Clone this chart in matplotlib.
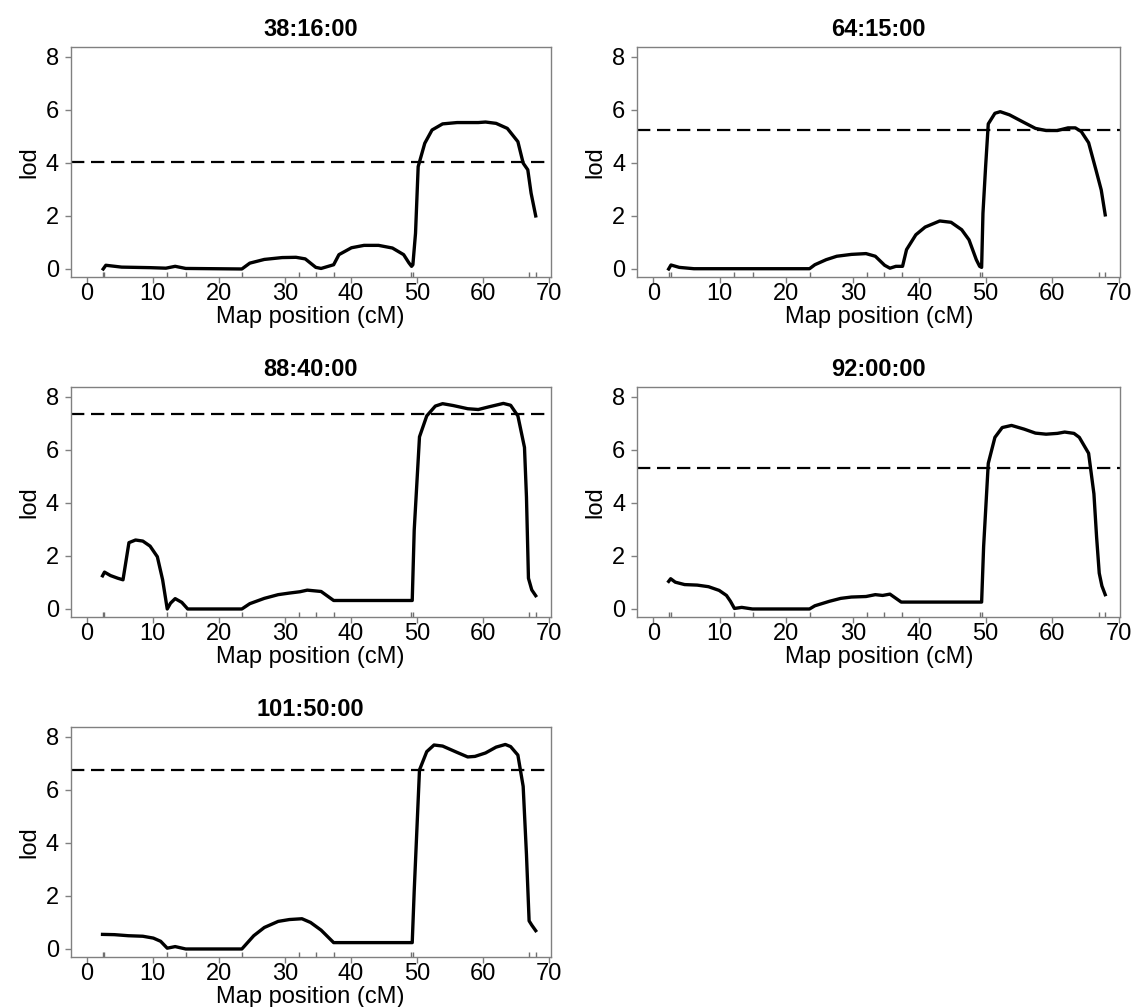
import numpy as np
import matplotlib.pyplot as plt

plt.rcParams["font.family"] = ["Liberation Sans", "DejaVu Sans"]

# ---- data ----
titles = ["38:16:00", "64:15:00", "88:40:00", "92:00:00", "101:50:00"]
thresholds = [4.03, 5.23, 7.34, 5.31, 6.75]
markers = [2.4, 2.6, 12.1, 15.0, 23.5, 32.2, 34.7, 37.4, 49.1, 49.4, 67.0, 68.0]

pos1 = [2.5, 2.9, 5.3, 9.6, 12.0, 13.4, 15.0, 23.5, 24.7, 26.9, 29.6, 31.7, 33.1, 34.7,
        35.5, 37.4, 38.2, 40.1, 42.0, 44.2, 46.3, 48.0, 48.8, 49.2, 49.4, 49.8, 50.2,
        51.2, 52.3, 53.9, 56.1, 59.3, 60.4, 62.0, 63.7, 65.3, 66.1, 66.8, 67.3, 68.0]
lod1 = [0.0, 0.14, 0.07, 0.05, 0.03, 0.1, 0.02, 0.0, 0.22, 0.36, 0.43, 0.44, 0.38, 0.06,
        0.02, 0.16, 0.54, 0.8, 0.89, 0.89, 0.79, 0.54, 0.23, 0.1, 0.16, 1.35, 3.86,
        4.74, 5.24, 5.47, 5.52, 5.52, 5.54, 5.49, 5.3, 4.8, 3.99, 3.74, 2.86, 2.0]

pos2 = [2.3, 2.65, 3.9, 6.1, 23.5, 24.3, 26.0, 27.6, 29.8, 32.0, 33.4, 34.8, 35.6, 36.5,
        37.5, 38.1, 39.5, 40.9, 43.1, 44.8, 46.4, 47.5, 48.6, 49.1, 49.4, 49.6, 50.0,
        50.4, 51.4, 52.2, 53.6, 55.8, 57.5, 59.1, 60.8, 62.4, 63.5, 64.4, 65.5, 66.6,
        67.4, 68.0]
lod2 = [0.0, 0.15, 0.06, 0.01, 0.01, 0.16, 0.35, 0.48, 0.55, 0.58, 0.48, 0.14, 0.03, 0.1,
        0.1, 0.73, 1.29, 1.58, 1.81, 1.76, 1.48, 1.1, 0.35, 0.1, 0.06, 2.1, 3.86,
        5.47, 5.87, 5.93, 5.81, 5.52, 5.3, 5.22, 5.22, 5.32, 5.32, 5.18, 4.76, 3.74,
        2.98, 2.04]

pos3 = [2.4, 2.7, 3.6, 4.7, 5.5, 6.4, 7.4, 8.5, 9.6, 10.7, 11.5, 12.2, 12.7, 13.4, 14.4,
        15.3, 23.5, 24.7, 26.9, 29.0, 30.7, 32.3, 33.4, 35.5, 37.4, 49.3, 49.6, 50.4,
        51.5, 52.8, 53.9, 55.5, 57.7, 59.3, 60.9, 63.1, 64.2, 65.3, 66.3, 66.6, 66.9,
        67.4, 68.0]
lod3 = [1.25, 1.39, 1.26, 1.16, 1.1, 2.5, 2.6, 2.56, 2.37, 1.97, 1.1, 0.0, 0.22, 0.39, 0.25,
        0.0, 0.0, 0.2, 0.4, 0.54, 0.6, 0.65, 0.71, 0.66, 0.32, 0.32, 2.97, 6.49,
        7.28, 7.65, 7.74, 7.67, 7.55, 7.52, 7.62, 7.75, 7.68, 7.28, 6.09, 4.22, 1.16,
        0.72, 0.5]

pos4 = [2.3, 2.6, 3.3, 4.7, 6.6, 8.3, 9.9, 11.0, 11.6, 12.2, 13.3, 14.9, 23.5, 24.3, 26.5,
        28.2, 29.8, 32.0, 33.4, 34.5, 35.6, 37.3, 49.4, 49.7, 50.4, 51.4, 52.5, 53.9,
        55.8, 57.5, 59.1, 60.8, 61.9, 63.3, 64.1, 65.5, 66.3, 66.7, 67.1, 67.5, 68.0]
lod4 = [1.04, 1.14, 1.01, 0.92, 0.9, 0.84, 0.7, 0.51, 0.29, 0.02, 0.06, 0.0, 0.0, 0.12, 0.29,
        0.4, 0.45, 0.47, 0.54, 0.51, 0.56, 0.26, 0.26, 2.35, 5.49, 6.47, 6.84, 6.92,
        6.78, 6.63, 6.59, 6.62, 6.67, 6.62, 6.47, 5.87, 4.34, 2.72, 1.35, 0.87, 0.54]

pos5 = [2.4, 4.2, 6.3, 8.5, 10.1, 11.2, 12.2, 13.4, 15.0, 23.5, 25.3, 26.9, 29.0, 30.7,
        32.6, 33.9, 35.5, 37.4, 49.3, 49.6, 50.4, 51.5, 52.6, 53.9, 56.1, 57.7, 58.8,
        60.4, 62.0, 63.4, 64.2, 65.3, 66.1, 66.6, 67.0, 67.4, 68.0]
lod5 = [0.55, 0.54, 0.5, 0.48, 0.41, 0.29, 0.03, 0.09, 0.0, 0.0, 0.5, 0.81, 1.04, 1.11,
        1.14, 1.0, 0.71, 0.24, 0.24, 2.19, 6.75, 7.44, 7.69, 7.65, 7.41, 7.24, 7.26,
        7.39, 7.61, 7.71, 7.63, 7.31, 6.13, 3.56, 1.06, 0.9, 0.69]

positions = [pos1, pos2, pos3, pos4, pos5]
lods = [lod1, lod2, lod3, lod4, lod5]

# ---- layout ----
W, H = 1131, 1007
fig = plt.figure(figsize=(W / 100, H / 100), dpi=100)

lefts = [70.7, 637.3]
widths = [480, 483]
tops = [46.7, 386.7, 726.7]
ax_h = 230.5
FS = 17

for i in range(5):
    r, c = divmod(i, 2)
    ax = fig.add_axes([lefts[c] / W, 1 - (tops[r] + ax_h) / H, widths[c] / W, ax_h / H])
    ax.plot(positions[i], lods[i], color="black", lw=2.4, solid_joinstyle="round")
    ax.axhline(thresholds[i], color="black", lw=1.6, dashes=(6, 3))
    ax.vlines(markers, 0, 0.022, transform=ax.get_xaxis_transform(),
              color="#707070", lw=1.0)
    ax.set_xlim(-2.42, 70.27)
    ax.set_ylim(-0.31, 8.38)
    ax.set_xticks(range(0, 71, 10))
    ax.set_yticks([0, 2, 4, 6, 8])
    for s in ax.spines.values():
        s.set_color("#808080")
        s.set_linewidth(1.0)
    ax.tick_params(length=4, width=1, color="#808080", labelsize=FS)
    ax.tick_params(axis="x", pad=0.5)
    ax.tick_params(axis="y", pad=4.5)
    ax.set_title(titles[i], fontsize=FS, fontweight="bold", pad=8)
    ax.set_xlabel("Map position (cM)", fontsize=FS, labelpad=0.5)
    ax.set_ylabel("lod", fontsize=FS, labelpad=4)

fig.savefig("out.png", dpi=100)
